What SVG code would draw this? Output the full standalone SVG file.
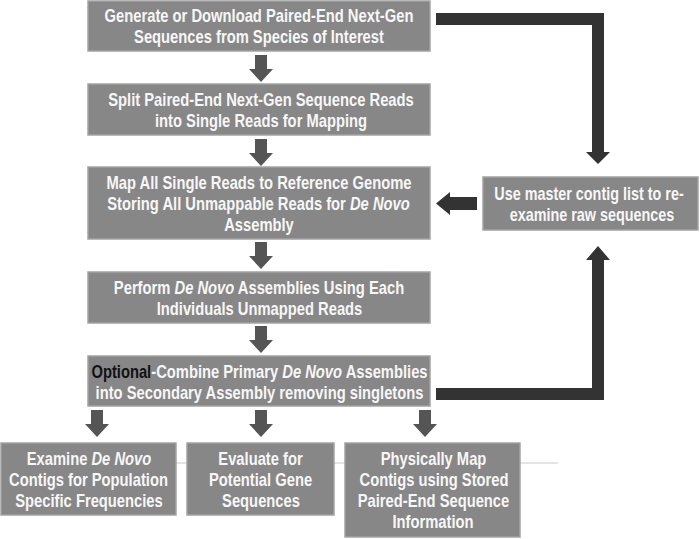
<svg xmlns="http://www.w3.org/2000/svg" width="700" height="539" viewBox="0 0 700 539">
<defs>
<style>
.box{fill:#878787;stroke:#a3a3a3;stroke-width:1.5}
.t{font-family:"Liberation Sans",Arial,sans-serif;font-weight:bold;font-size:18px;fill:#f7f7f7;text-anchor:middle}
.i{font-style:italic}
.blk{fill:#111}
.sa{fill:#555}
.ba{fill:#333}
</style>
<symbol id="dn" viewBox="0 0 26 28" overflow="visible">
<polygon points="7,0 19,0 19,14 25,14 13,27 1,14 7,14"/>
</symbol>
</defs>
<rect width="700" height="539" fill="#fff"/>
<line x1="176" y1="463" x2="558" y2="463" stroke="#e4e4e4" stroke-width="2"/>

<g id="connectors">
<g class="sa">
<use href="#dn" x="248" y="55" width="26" height="28"/>
<use href="#dn" x="248" y="139" width="26" height="28"/>
<use href="#dn" x="248" y="242" width="26" height="28"/>
<use href="#dn" x="248" y="326" width="26" height="28"/>
<use href="#dn" x="84" y="410" width="26" height="28"/>
<use href="#dn" x="248" y="410" width="26" height="28"/>
<use href="#dn" x="412" y="410" width="26" height="28"/>
</g>
<polygon class="ba" points="436,13 604,13 604,152 610,152 598,164 586,152 592,152 592,25 436,25"/>
<polygon class="ba" points="436,388 592,388 592,260 586,260 598,246 610,260 604,260 604,400 436,400"/>
<polygon class="ba" points="477,197 450,197 450,192 436,203.5 450,215 450,210 477,210"/>
</g>

<g id="n1">
<rect class="box" x="88" y="1" width="342" height="50"/>
<text class="t" transform="matrix(0.82 0 0 1 259 22)">Generate or Download Paired-End Next-Gen</text>
<text class="t" transform="matrix(0.82 0 0 1 259 43)">Sequences from Species of Interest</text>
</g>

<g id="n2">
<rect class="box" x="88" y="84" width="342" height="51"/>
<text class="t" transform="matrix(0.82 0 0 1 261 106)">Split Paired-End Next-Gen Sequence Reads</text>
<text class="t" transform="matrix(0.82 0 0 1 261 127)">into Single Reads for Mapping</text>
</g>

<g id="n3">
<rect class="box" x="88" y="167" width="342" height="72"/>
<text class="t" transform="matrix(0.82 0 0 1 259 189)">Map All Single Reads to Reference Genome</text>
<text class="t" transform="matrix(0.82 0 0 1 258.5 210)">Storing All Unmappable Reads for <tspan class="i">De Novo</tspan></text>
<text class="t" transform="matrix(0.82 0 0 1 259 231)">Assembly</text>
</g>

<g id="n4">
<rect class="box" x="88" y="272" width="342" height="51"/>
<text class="t" transform="matrix(0.82 0 0 1 259 294)">Perform <tspan class="i">De Novo</tspan> Assemblies Using Each</text>
<text class="t" transform="matrix(0.82 0 0 1 259.5 315)">Individuals Unmapped Reads</text>
</g>

<g id="n5">
<rect class="box" x="88" y="356" width="342" height="50"/>
<text class="t" transform="matrix(0.82 0 0 1 259.5 378)"><tspan class="blk">Optional</tspan>-Combine Primary <tspan class="i">De Novo</tspan> Assemblies</text>
<text class="t" transform="matrix(0.82 0 0 1 259.5 399)">into Secondary Assembly removing singletons</text>
</g>

<g id="n6">
<rect class="box" x="483" y="177" width="215" height="53"/>
<text class="t" transform="matrix(0.8 0 0 1 589 200)">Use master contig list to re-</text>
<text class="t" transform="matrix(0.8 0 0 1 592 221)">examine raw sequences</text>
</g>

<g id="n7">
<rect class="box" x="1" y="443" width="175" height="72"/>
<text class="t" transform="matrix(0.82 0 0 1 89 465)">Examine <tspan class="i">De Novo</tspan></text>
<text class="t" transform="matrix(0.82 0 0 1 88.5 486)">Contigs for Population</text>
<text class="t" transform="matrix(0.82 0 0 1 89 507)">Specific Frequencies</text>
</g>

<g id="n8">
<rect class="box" x="187" y="443" width="147" height="72"/>
<text class="t" transform="matrix(0.82 0 0 1 260.5 465)">Evaluate for</text>
<text class="t" transform="matrix(0.82 0 0 1 260.5 486)">Potential Gene</text>
<text class="t" transform="matrix(0.82 0 0 1 261 507)">Sequences</text>
</g>

<g id="n9">
<rect class="box" x="345" y="443" width="175" height="94"/>
<text class="t" transform="matrix(0.82 0 0 1 433.5 465)">Physically Map</text>
<text class="t" transform="matrix(0.82 0 0 1 434 486)">Contigs using Stored</text>
<text class="t" transform="matrix(0.82 0 0 1 433.5 507)">Paired-End Sequence</text>
<text class="t" transform="matrix(0.82 0 0 1 433 528)">Information</text>
</g>
</svg>
